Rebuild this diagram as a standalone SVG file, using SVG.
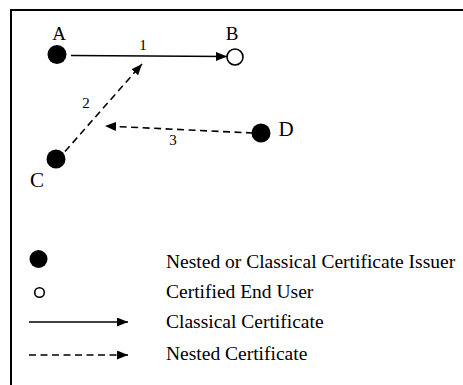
<svg xmlns="http://www.w3.org/2000/svg" width="463" height="385" viewBox="0 0 463 385">
<style>
text{font-family:"Liberation Serif","Times New Roman",serif;fill:#000}
.lbl{font-size:19px;text-anchor:middle}
.lbl2{font-size:21px;text-anchor:middle}
.num{font-size:15px;text-anchor:middle}
.leg{font-size:19.5px}
.issuer{fill:#000}
.user{fill:#fff;stroke:#000;stroke-width:1.6}
.solid{stroke:#000;stroke-width:1.6;fill:none}
.dash{stroke:#000;stroke-width:1.6;fill:none;stroke-dasharray:7,4.5}
</style>
<defs>
<marker id="ah" markerUnits="userSpaceOnUse" markerWidth="12" markerHeight="10" refX="11" refY="4.5" orient="auto">
<path d="M0,0 L11,4.5 L0,9 Z" fill="#000"/>
</marker>
</defs>
<g id="frame">
<line x1="11" y1="10" x2="463" y2="10" stroke="#000" stroke-width="2"/>
<line x1="11" y1="9" x2="11" y2="385" stroke="#000" stroke-width="2"/>
</g>
<g id="connectors">
<line class="solid" x1="71" y1="55.5" x2="227" y2="56.5" marker-end="url(#ah)"/>
<text class="num" x="143" y="50">1</text>
<line class="dash" x1="65" y1="151.5" x2="142" y2="64" marker-end="url(#ah)"/>
<text class="num" x="86" y="108">2</text>
<line class="dash" x1="253" y1="133" x2="105" y2="126" marker-end="url(#ah)"/>
<text class="num" x="173" y="144.5">3</text>
</g>
<g id="A">
<circle class="issuer" cx="57" cy="54.5" r="9.5"/>
<text class="lbl" x="59" y="40">A</text>
</g>
<g id="B">
<circle class="user" cx="235" cy="57" r="8"/>
<text class="lbl" x="232" y="40">B</text>
</g>
<g id="C">
<circle class="issuer" cx="56" cy="159" r="9.5"/>
<text class="lbl2" x="37" y="187">C</text>
</g>
<g id="D">
<circle class="issuer" cx="261" cy="133" r="9.5"/>
<text class="lbl2" x="286" y="135.5">D</text>
</g>
<g id="legend">
<circle class="issuer" cx="38.5" cy="259" r="9"/>
<text class="leg" x="166" y="268">Nested or Classical Certificate Issuer</text>
<circle class="user" cx="39.5" cy="292.5" r="4.8"/>
<text class="leg" x="166" y="298">Certified End User</text>
<line class="solid" x1="29" y1="322" x2="128" y2="322" marker-end="url(#ah)"/>
<text class="leg" x="166" y="328">Classical Certificate</text>
<line class="dash" x1="29" y1="355" x2="128" y2="355" marker-end="url(#ah)"/>
<text class="leg" x="166" y="360">Nested Certificate</text>
</g>
</svg>
